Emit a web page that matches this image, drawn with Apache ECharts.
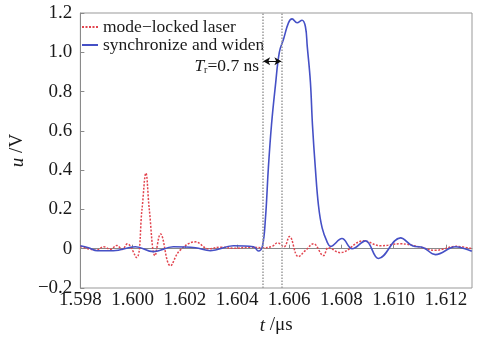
<!DOCTYPE html>
<html>
<head>
<meta charset="utf-8">
<script src="https://cdn.jsdelivr.net/npm/echarts@6/dist/echarts.min.js"></script>
<style>
  html, body { margin: 0; padding: 0; background: #fff; }
  #chart { width: 486px; height: 340px; }
</style>
</head>
<body>
<div id="chart"></div>
<script>
// mode-locked laser (red, dotted)
const redT = [1.5980, 1.5983, 1.5986, 1.5989, 1.59915, 1.5994, 1.5996, 1.5998, 1.60015, 1.60036,
  1.60051, 1.60064, 1.60086, 1.60107, 1.60145, 1.6018, 1.60241, 1.6029, 1.6034, 1.6039,
  1.6045, 1.6050, 1.60535, 1.60555, 1.6058, 1.60601, 1.60635, 1.60665, 1.60693, 1.60731,
  1.6075, 1.60795, 1.60884, 1.6095, 1.61026, 1.6109, 1.6116, 1.6124, 1.6130];
const redU = [0.012, 0.0, -0.008, 0.01, -0.003, 0.017, -0.004, 0.025, -0.045, 0.2,
  0.385, 0.2, -0.035, 0.075, -0.087, -0.01, 0.035, 0.0, 0.008, 0.002,
  0.008, 0.005, 0.012, 0.03, 0.01, 0.062, -0.04, -0.005, 0.025, -0.035,
  0.005, -0.02, 0.04, 0.015, 0.025, 0.012, -0.008, 0.012, 0.0];

// synchronize and widen (blue, solid)
const blueT = [1.5980, 1.59831, 1.59865, 1.59926, 1.60011, 1.6008, 1.60156, 1.60241, 1.60298, 1.60386,
  1.60463, 1.60482, 1.60497, 1.60509, 1.6052, 1.60532, 1.60547, 1.60562, 1.60578, 1.60597,
  1.60611, 1.6063, 1.60649, 1.60662, 1.60669, 1.60681, 1.60689, 1.607, 1.60712, 1.60726,
  1.60745, 1.60758, 1.60802, 1.60841, 1.60892, 1.60942, 1.61026, 1.61072, 1.61114, 1.6116,
  1.61237, 1.61294, 1.6130];
const blueU = [0.015, 0.005, -0.01, -0.01, 0.01, -0.015, 0.01, 0.005, -0.01, 0.015,
  0.01, -0.012, 0.01, 0.157, 0.41, 0.63, 0.83, 1.0, 1.066, 1.15,
  1.17, 1.15, 1.163, 1.13, 1.03, 0.85, 0.63, 0.41, 0.22, 0.106,
  0.035, 0.012, 0.052, 0.0, 0.04, -0.05, 0.055, 0.015, 0.005, -0.03,
  0.01, -0.01, -0.012];

// rise time markers
const riseStart = 1.6050;
const riseEnd = 1.6057;
const arrowU = 0.955;

const seriesNames = ['mode\u2212locked laser', 'synchronize and widen'];

const font = 'Liberation Serif';
const axisGray = '#8a8a8a';
const ink = '#1a1a1a';

const chart = echarts.init(document.getElementById('chart'), null, { renderer: 'canvas' });

chart.setOption({
  animation: false,
  backgroundColor: '#fff',
  textStyle: { fontFamily: font },
  grid: {
    left: 80, right: 14, top: 13, bottom: 48,
    show: true, borderColor: '#999', borderWidth: 1
  },
  legend: {
    orient: 'vertical',
    left: 81, top: 18,
    padding: 0,
    itemGap: 0,
    itemWidth: 16, itemHeight: 10,
    itemStyle: { opacity: 0 },
    textStyle: { fontFamily: font, fontSize: 17.5, color: ink, lineHeight: 15 },
    data: seriesNames
  },
  xAxis: {
    type: 'value',
    min: 1.598, max: 1.613, interval: 0.002,
    name: '{i|t} /\u03bcs',
    nameLocation: 'middle',
    nameGap: 28,
    nameTextStyle: {
      fontFamily: font, fontSize: 19, color: ink,
      rich: { i: { fontStyle: 'italic', fontFamily: font, fontSize: 19, color: ink } }
    },
    axisLine: { lineStyle: { color: axisGray } },
    axisTick: { inside: true, length: 4, lineStyle: { color: axisGray } },
    splitLine: { show: false },
    axisLabel: {
      fontFamily: font, fontSize: 19, color: ink, margin: 3,
      showMaxLabel: false,
      formatter: v => {
        const k = Math.round((v - 1.598) / 0.002);
        return Math.abs(1.598 + k * 0.002 - v) < 1e-7 ? v.toFixed(3) : '';
      }
    }
  },
  yAxis: {
    type: 'value',
    min: -0.2, max: 1.2, interval: 0.2,
    name: '{i|u} /V',
    nameLocation: 'middle',
    nameGap: 44,
    nameTextStyle: {
      fontFamily: font, fontSize: 19, color: ink,
      rich: { i: { fontStyle: 'italic', fontFamily: font, fontSize: 19, color: ink } }
    },
    axisLine: { show: true, lineStyle: { color: axisGray } },
    axisTick: { show: true, inside: true, length: 4, lineStyle: { color: axisGray } },
    splitLine: { show: false },
    axisLabel: {
      fontFamily: font, fontSize: 19, color: ink, margin: 8,
      formatter: v => {
        if (Math.abs(v) < 1e-9) return '0';
        return (v < 0 ? '\u2212' : '') + Math.abs(v).toFixed(1);
      }
    }
  },
  series: [
    {
      name: seriesNames[0],
      type: 'line',
      symbol: 'none',
      smooth: 0.4,
      z: 3,
      lineStyle: { color: '#e2454f', width: 1.5, type: [2, 1.5] },
      itemStyle: { color: '#e2454f' },
      data: redT.map((t, i) => [t, redU[i]]),
      markLine: {
        silent: true,
        precision: 5,
        symbol: ['arrow', 'arrow'],
        symbolSize: [6, 7],
        lineStyle: { color: '#111', width: 1, type: 'solid' },
        label: {
          show: true,
          position: 'start',
          distance: 4,
          padding: [11, 0, 0, 0],
          formatter: '{t|T}{r|r}{n|=0.7 ns}',
          rich: {
            t: { fontFamily: font, fontStyle: 'italic', fontSize: 17.5, color: ink },
            r: { fontFamily: font, fontSize: 10, color: ink, verticalAlign: 'bottom', padding: [8, 0, 0, 0] },
            n: { fontFamily: font, fontSize: 17.5, color: ink }
          }
        },
        data: [[{ coord: [riseStart, arrowU] }, { coord: [riseEnd, arrowU] }]]
      }
    },
    {
      name: seriesNames[1],
      type: 'line',
      symbol: 'none',
      smooth: 0.4,
      z: 4,
      lineStyle: { color: '#4550c6', width: 1.6 },
      itemStyle: { color: '#4550c6' },
      data: blueT.map((t, i) => [t, blueU[i]]),
      markLine: {
        silent: true,
        precision: 5,
        symbol: ['none', 'none'],
        label: { show: false },
        lineStyle: { color: '#9a9a9a', width: 1.5, type: 'dotted' },
        data: [{ xAxis: riseStart }, { xAxis: riseEnd }]
      }
    }
  ]
});
</script>
</body>
</html>
